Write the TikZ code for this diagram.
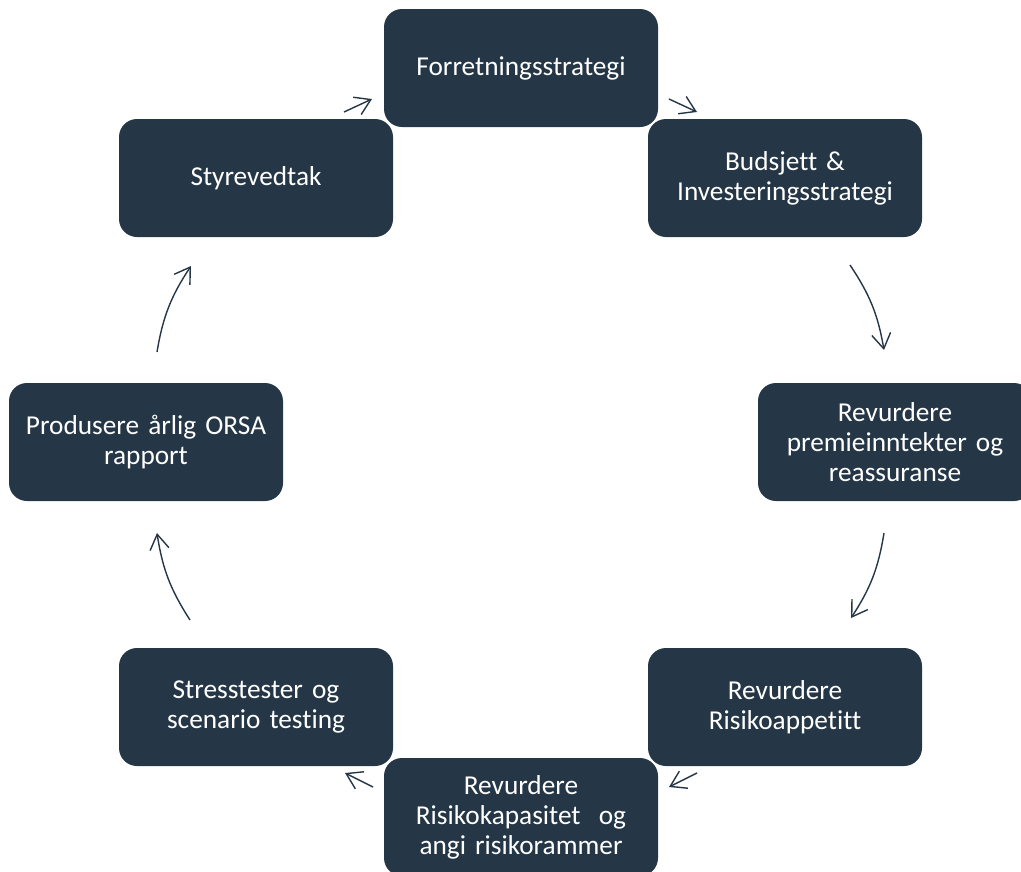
\documentclass[tikz,border=0pt]{standalone}
\usepackage{fontspec}
\setmainfont{Carlito}[Ligatures=NoCommon]
\usetikzlibrary{arrows.meta}
\definecolor{navy}{RGB}{37,55,70}
\tikzset{
  stepbox/.style={fill=navy, draw=none, rounded corners=18pt, minimum width=274pt,
    minimum height=118pt, inner sep=0pt, text width=266pt, align=center,
    text=white, font=\fontsize{27.3}{30}\selectfont},
  flow/.style={draw=navy, line width=1.4pt,
    -{Straight Barb[length=15pt,width=19pt,line width=1.4pt]}},
}
\begin{document}
\begin{tikzpicture}[x=1pt,y=-1pt]
\useasboundingbox (0,0) rectangle (1021,871);
\node[stepbox] (fs) at (521,68) {Forretningsstrategi};
\node[stepbox] (bud) at (785,178) {Budsjett \&\\Investeringsstrategi};
\node[stepbox] (pre) at (895,442) {Revurdere\\premieinntekter og\\reassuranse};
\node[stepbox] (app) at (785,707) {Revurdere\\Risikoappetitt};
\node[stepbox] (kap) at (521,817) {Revurdere\\Risikokapasitet\ \ og\\angi risikorammer};
\node[stepbox] (str) at (256,707) {Stresstester og\\scenario testing};
\node[stepbox] (orsa) at (146,442) {Produsere årlig ORSA\\rapport};
\node[stepbox] (sty) at (256,178) {Styrevedtak};

\coordinate (a1s) at (344,112); \coordinate (a1e) at (372,99);
\coordinate (a2s) at (669,99);  \coordinate (a2e) at (697,112);
\coordinate (a3s) at (850,265); \coordinate (a3e) at (884,350);
\coordinate (a4s) at (884,533); \coordinate (a4e) at (851,618);
\coordinate (a5s) at (697,773); \coordinate (a5e) at (669,787);
\coordinate (a6s) at (373,787); \coordinate (a6e) at (345,773);
\coordinate (a7s) at (190,620); \coordinate (a7e) at (157,533);
\coordinate (a8s) at (157,352); \coordinate (a8e) at (191,266);

\draw[flow] (a1s) -- (a1e);
\draw[flow] (a2s) -- (a2e);
\draw[flow] (a3s) to[bend left=12] (a3e);
\draw[flow] (a4s) to[bend left=12] (a4e);
\draw[flow] (a5s) -- (a5e);
\draw[flow] (a6s) -- (a6e);
\draw[flow] (a7s) to[bend left=12] (a7e);
\draw[flow] (a8s) to[bend left=12] (a8e);
\end{tikzpicture}
\end{document}
